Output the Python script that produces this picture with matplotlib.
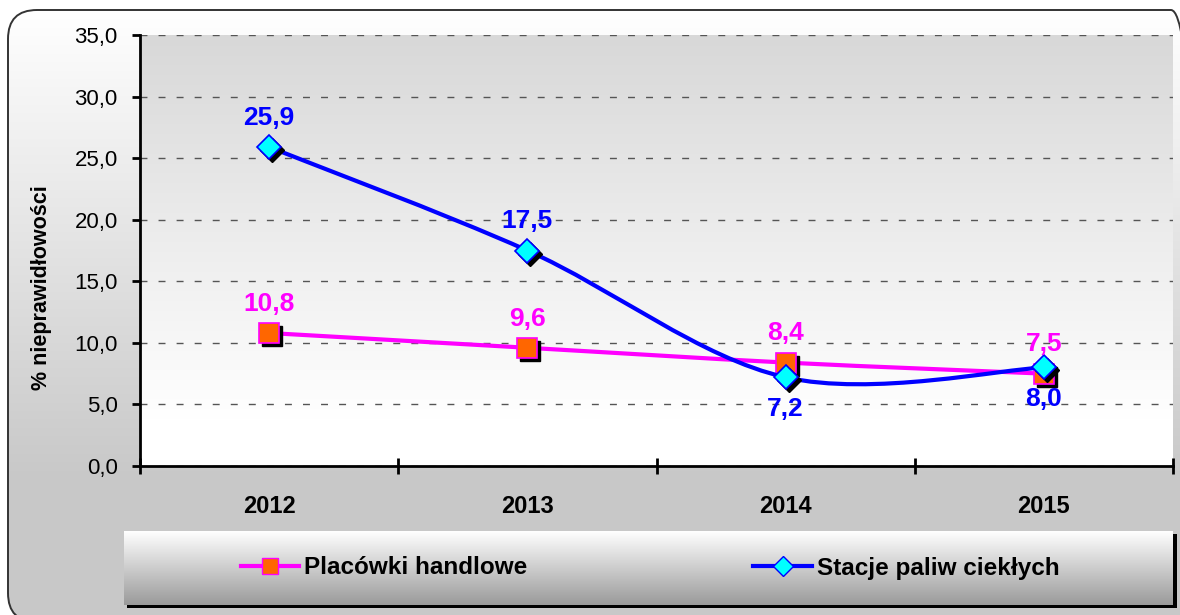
import matplotlib
matplotlib.use("Agg")
import matplotlib.pyplot as plt
import numpy as np
from matplotlib.lines import Line2D
from matplotlib.patches import FancyBboxPatch, PathPatch, Rectangle
from matplotlib.path import Path
from matplotlib import transforms

plt.rcParams["font.family"] = ["Liberation Sans", "DejaVu Sans"]

# data
years = ["2012", "2013", "2014", "2015"]
placowki = [10.8, 9.6, 8.4, 7.5]
stacje = [25.9, 17.5, 7.2, 8.0]
placowki_pos = ["above", "above", "above", "above"]
stacje_pos = ["above", "above", "below", "below"]
series_names = ["Placówki handlowe", "Stacje paliw ciekłych"]
y_label = "% nieprawidłowości"
y_ticks = [0, 5, 10, 15, 20, 25, 30, 35]

W, H = 1180, 615
PINK, ORANGE = "#FF00FF", "#FF6600"
BLUE, CYAN = "#0000FF", "#00FFFF"


def smooth_path(xs, ys):
    """Excel-like smoothed line: Bezier segments with Catmull-Rom tangents."""
    pts = np.column_stack([xs, ys]).astype(float)
    n = len(pts)
    verts = [pts[0]]
    codes = [Path.MOVETO]
    for i in range(n - 1):
        p0 = pts[max(i - 1, 0)]
        p1, p2 = pts[i], pts[i + 1]
        p3 = pts[min(i + 2, n - 1)]
        verts += [p1 + (p2 - p0) / 6, p2 - (p3 - p1) / 6, p2]
        codes += [Path.CURVE4] * 3
    return Path(verts, codes)


def vgrad(top, bottom, n=256):
    t = np.linspace(0, 1, n)[:, None, None]
    top = np.array(matplotlib.colors.to_rgb(top))
    bottom = np.array(matplotlib.colors.to_rgb(bottom))
    return top * (1 - t) + bottom * t


def band(img, left, right, top, bottom, **kw):
    """Place a gradient image using top-down pixel rows."""
    return bg.imshow(img, extent=[left, right, H - bottom, H - top], aspect="auto", **kw)


fig = plt.figure(figsize=(W / 100, H / 100), dpi=100)
fig.patch.set_facecolor("white")

# background layer in pixel coordinates (y measured upward)
bg = fig.add_axes([0, 0, 1, 1], zorder=-10)
bg.set_axis_off()

frame = FancyBboxPatch((8, H - 622), 1192, 612, boxstyle="round,pad=0,rounding_size=29",
                       facecolor="none", edgecolor="#333333", linewidth=1.4, zorder=3)
bg.add_patch(frame)
outer = band(vgrad("#ffffff", "#c8c8c8"), 0, W, 10, 480, zorder=1)
outer.set_clip_path(frame)
low = Rectangle((0, -20), W, H - 479 + 20, facecolor="#c8c8c8", edgecolor="none", zorder=1)
bg.add_patch(low)
low.set_clip_path(frame)

# plot area gradient
band(vgrad("#d8d8d8", "#ffffff"), 140, 1173, 35, 420, zorder=2)
bg.add_patch(Rectangle((140, H - 466), 1033, 47, facecolor="white", edgecolor="none", zorder=2))

# legend box with shadow
bg.add_patch(Rectangle((127, H - 608), 1050, 74, facecolor="black", edgecolor="none", zorder=4))
band(vgrad("#ffffff", "#9a9a9a"), 124, 1173, 531, 605, zorder=5)
bg.set_xlim(0, W)
bg.set_ylim(0, H)

# main axes
ax = fig.add_axes([140 / W, 1 - 466 / H, (1173 - 140) / W, (466 - 35) / H])
ax.patch.set_visible(False)
x = np.arange(len(years))
ax.set_xlim(-0.5, len(years) - 0.5)
ax.set_ylim(0, 35)

for s in ("top", "right"):
    ax.spines[s].set_visible(False)
for s in ("left", "bottom"):
    ax.spines[s].set_linewidth(2)
    ax.spines[s].set_zorder(6)

ax.set_yticks(y_ticks)
ax.set_yticklabels([f"{v:.1f}".replace(".", ",") for v in y_ticks], fontsize=16)
ax.tick_params(axis="y", direction="out", length=6, width=2, pad=10)
ax.yaxis.grid(True, color="#555555", linewidth=1, dashes=(5, 8))
ax.set_axisbelow(True)

ax.set_xticks(np.arange(len(years) + 1) - 0.5)
ax.set_xticklabels([])
ax.tick_params(axis="x", which="major", direction="inout", length=11, width=2)
ax.set_xticks(x, minor=True)
ax.set_xticklabels(years, minor=True, fontsize=17, fontweight="bold")
ax.tick_params(axis="x", which="minor", length=0, pad=21)

shadow = transforms.offset_copy(ax.transData, fig=fig, x=3, y=-3, units="dots")

series = [
    (placowki, placowki_pos, PINK, ORANGE, "s", 15, PINK),
    (stacje, stacje_pos, BLUE, CYAN, "D", 12, BLUE),
]
for z, (vals, pos, lc, fc, mk, ms, tc) in enumerate(series):
    base = 3 + 3 * z
    ax.add_patch(PathPatch(smooth_path(x, vals), facecolor="none", edgecolor=lc,
                           linewidth=3, zorder=base, capstyle="round"))
    ax.plot(x, vals, linestyle="none", marker=mk, markersize=ms, color="black",
            transform=shadow, zorder=base + 1)
    ax.plot(x, vals, linestyle="none", marker=mk, markersize=ms, markerfacecolor=fc,
            markeredgecolor=lc, markeredgewidth=1.2, zorder=base + 2)
    for xi, v, p in zip(x, vals, pos):
        dy = 21 if p == "above" else -23
        ax.annotate(f"{v:.1f}".replace(".", ","), (xi, v), xytext=(0, dy),
                    textcoords="offset points", ha="center", va="center",
                    fontsize=19, fontweight="bold", color=tc, zorder=10)

fig.text(42 / W, 1 - 288 / H, y_label, rotation=90, ha="center", va="center",
         fontsize=15.5, fontweight="bold")

handles = [
    Line2D([], [], color=PINK, linewidth=3, marker="s", markersize=12,
           markerfacecolor=ORANGE, markeredgecolor=PINK),
    Line2D([], [], color=BLUE, linewidth=3, marker="D", markersize=10,
           markerfacecolor=CYAN, markeredgecolor=BLUE),
]
fig.legend(handles, series_names, loc="center", bbox_to_anchor=(650 / W, 1 - 568 / H),
           ncol=2, frameon=False, prop={"size": 17.5, "weight": "bold"},
           handlelength=2.4, handletextpad=0.2, columnspacing=9.3)

fig.savefig("out.png", dpi=100)
